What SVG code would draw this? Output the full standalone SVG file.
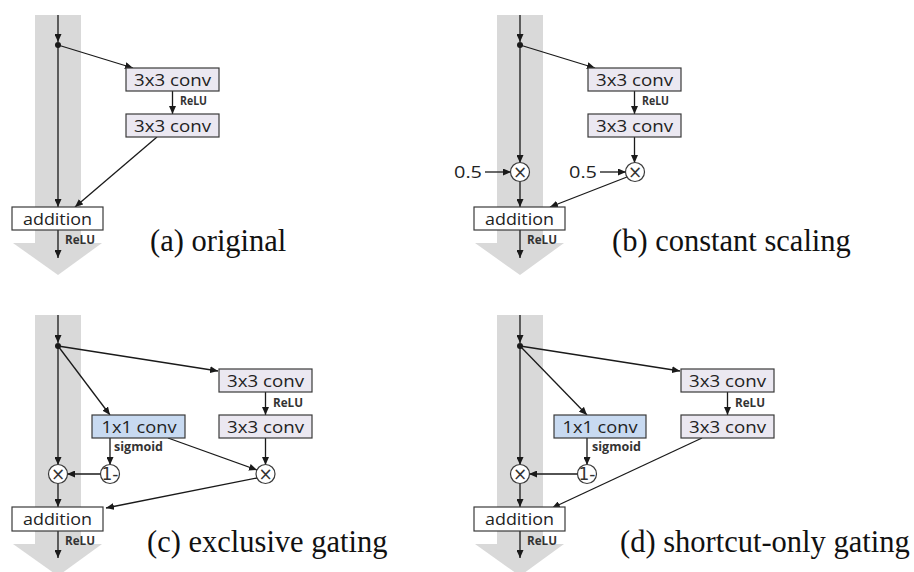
<svg xmlns="http://www.w3.org/2000/svg" width="914" height="572" viewBox="0 0 914 572">
<defs>
<marker id="ah" markerUnits="userSpaceOnUse" markerWidth="8" markerHeight="7" refX="8" refY="3.5" orient="auto">
<path d="M0,0 L8,3.5 L0,7 z" fill="#1a1a1a"/>
</marker>
<style>
.band{fill:#d9d9d9}
.ar{stroke:#1a1a1a;stroke-width:1.3;fill:none;marker-end:url(#ah)}
.box{fill:#ebe8f1;stroke:#3a3a3a;stroke-width:1.2}
.add{fill:#ffffff;stroke:#3a3a3a;stroke-width:1.2}
.blue{fill:#c8daf1;stroke:#3a3a3a;stroke-width:1.2}
.circ{fill:#ffffff;stroke:#3a3a3a;stroke-width:1.2}
.dot{fill:#1a1a1a}
.t{font-family:"Open Sans","DejaVu Sans",sans-serif;font-size:16.5px;fill:#222;text-anchor:middle}
.s{font-family:"Open Sans","Liberation Sans",sans-serif;font-size:12px;font-weight:bold;fill:#333}
.op{font-family:"DejaVu Sans","Open Sans",sans-serif;font-size:17px;fill:#333;text-anchor:middle}
.num{font-family:"Open Sans","DejaVu Sans",sans-serif;font-size:17px;fill:#222}
.cap{font-family:"Liberation Serif","Times New Roman",serif;font-size:30.5px;fill:#111}
</style>
</defs>

<!-- bands -->
<g id="bands">
<rect class="band" x="35" y="15" width="46" height="228"/>
<polygon class="band" points="13,243 102,243 58,275"/>
<rect class="band" x="497" y="15" width="46" height="228"/>
<polygon class="band" points="475,243 564,243 520,275"/>
<rect class="band" x="35" y="315" width="46" height="229"/>
<polygon class="band" points="13,544 102,544 58,576"/>
<rect class="band" x="497" y="315" width="46" height="229"/>
<polygon class="band" points="475,544 564,544 520,576"/>
</g>

<!-- connectors -->
<g id="connectors">
<!-- (a) -->
<line class="ar" x1="58" y1="15" x2="58" y2="42"/>
<line class="ar" x1="58" y1="45" x2="58" y2="207"/>
<line class="ar" x1="58" y1="45" x2="133" y2="68"/>
<line class="ar" x1="172.5" y1="91" x2="172.5" y2="114"/>
<line class="ar" x1="157" y1="137" x2="75" y2="207"/>
<line class="ar" x1="58" y1="230" x2="58" y2="258"/>
<!-- (b) -->
<line class="ar" x1="520" y1="15" x2="520" y2="42"/>
<line class="ar" x1="520" y1="45" x2="520" y2="163"/>
<line class="ar" x1="520" y1="45" x2="595" y2="68"/>
<line class="ar" x1="634.5" y1="91" x2="634.5" y2="114"/>
<line class="ar" x1="634.5" y1="137" x2="634.5" y2="163"/>
<line class="ar" x1="485" y1="172" x2="511" y2="172"/>
<line class="ar" x1="600" y1="172" x2="626" y2="172"/>
<line class="ar" x1="520" y1="181" x2="520" y2="207"/>
<line class="ar" x1="627" y1="177" x2="550" y2="207"/>
<line class="ar" x1="520" y1="230" x2="520" y2="258"/>
<!-- (c) -->
<line class="ar" x1="58" y1="315" x2="58" y2="343"/>
<line class="ar" x1="58" y1="346" x2="58" y2="465"/>
<line class="ar" x1="58" y1="346" x2="218" y2="371"/>
<line class="ar" x1="58" y1="346" x2="110" y2="415"/>
<line class="ar" x1="265.5" y1="392" x2="265.5" y2="415"/>
<line class="ar" x1="110" y1="438" x2="110" y2="465"/>
<line class="ar" x1="265.5" y1="438" x2="265.5" y2="465"/>
<line class="ar" x1="168" y1="438" x2="257" y2="470"/>
<line class="ar" x1="101" y1="474" x2="67" y2="474"/>
<line class="ar" x1="58" y1="483" x2="58" y2="507"/>
<line class="ar" x1="257" y1="478" x2="106" y2="508"/>
<line class="ar" x1="58" y1="531" x2="58" y2="558"/>
<!-- (d) -->
<line class="ar" x1="520" y1="315" x2="520" y2="343"/>
<line class="ar" x1="520" y1="346" x2="520" y2="465"/>
<line class="ar" x1="520" y1="346" x2="680" y2="371"/>
<line class="ar" x1="520" y1="346" x2="587" y2="415"/>
<line class="ar" x1="727.5" y1="392" x2="727.5" y2="415"/>
<line class="ar" x1="587" y1="438" x2="587" y2="465"/>
<line class="ar" x1="578" y1="474" x2="529" y2="474"/>
<line class="ar" x1="520" y1="483" x2="520" y2="507"/>
<line class="ar" x1="702" y1="438" x2="552" y2="508"/>
<line class="ar" x1="520" y1="531" x2="520" y2="558"/>
</g>

<!-- panel (a) -->
<g id="a-split"><circle class="dot" cx="58" cy="45" r="3"/></g>
<g id="a-conv1"><rect class="box" x="126" y="68" width="93" height="23"/><text class="t" x="172.5" y="85.5" textLength="77" lengthAdjust="spacingAndGlyphs">3x3 conv</text></g>
<g id="a-relu1"><text class="s" x="180" y="105" textLength="27" lengthAdjust="spacingAndGlyphs">ReLU</text></g>
<g id="a-conv2"><rect class="box" x="126" y="114" width="93" height="23"/><text class="t" x="172.5" y="131.5" textLength="77" lengthAdjust="spacingAndGlyphs">3x3 conv</text></g>
<g id="a-add"><rect class="add" x="12" y="207" width="91" height="23"/><text class="t" x="57.5" y="224.5" textLength="69" lengthAdjust="spacingAndGlyphs">addition</text></g>
<g id="a-relu2"><text class="s" x="65" y="244" textLength="30" lengthAdjust="spacingAndGlyphs">ReLU</text></g>
<g id="a-caption"><text class="cap" x="150" y="251">(a) original</text></g>

<!-- panel (b) -->
<g id="b-split"><circle class="dot" cx="520" cy="45" r="3"/></g>
<g id="b-conv1"><rect class="box" x="588" y="68" width="93" height="23"/><text class="t" x="634.5" y="85.5" textLength="77" lengthAdjust="spacingAndGlyphs">3x3 conv</text></g>
<g id="b-relu1"><text class="s" x="642" y="105" textLength="27" lengthAdjust="spacingAndGlyphs">ReLU</text></g>
<g id="b-conv2"><rect class="box" x="588" y="114" width="93" height="23"/><text class="t" x="634.5" y="131.5" textLength="77" lengthAdjust="spacingAndGlyphs">3x3 conv</text></g>
<g id="b-k1"><text class="num" x="454" y="178" textLength="28" lengthAdjust="spacingAndGlyphs">0.5</text></g>
<g id="b-k2"><text class="num" x="569" y="178" textLength="28" lengthAdjust="spacingAndGlyphs">0.5</text></g>
<g id="b-mul1"><circle class="circ" cx="520" cy="172" r="9.5"/><text class="op" x="520" y="178">×</text></g>
<g id="b-mul2"><circle class="circ" cx="635" cy="172" r="9.5"/><text class="op" x="635" y="178">×</text></g>
<g id="b-add"><rect class="add" x="474" y="207" width="91" height="23"/><text class="t" x="519.5" y="224.5" textLength="69" lengthAdjust="spacingAndGlyphs">addition</text></g>
<g id="b-relu2"><text class="s" x="527" y="244" textLength="30" lengthAdjust="spacingAndGlyphs">ReLU</text></g>
<g id="b-caption"><text class="cap" x="612" y="251">(b) constant scaling</text></g>

<!-- panel (c) -->
<g id="c-split"><circle class="dot" cx="58" cy="346" r="3"/></g>
<g id="c-conv1"><rect class="box" x="219" y="369" width="93" height="23"/><text class="t" x="265.5" y="386.5" textLength="77" lengthAdjust="spacingAndGlyphs">3x3 conv</text></g>
<g id="c-relu1"><text class="s" x="273" y="407" textLength="30" lengthAdjust="spacingAndGlyphs">ReLU</text></g>
<g id="c-conv2"><rect class="box" x="219" y="415" width="93" height="23"/><text class="t" x="265.5" y="432.5" textLength="77" lengthAdjust="spacingAndGlyphs">3x3 conv</text></g>
<g id="c-gate"><rect class="blue" x="92" y="415" width="93" height="23"/><text class="t" x="139" y="432.5" textLength="75" lengthAdjust="spacingAndGlyphs">1x1 conv</text></g>
<g id="c-sigmoid"><text class="s" x="114" y="451" textLength="49" lengthAdjust="spacingAndGlyphs">sigmoid</text></g>
<g id="c-one-minus"><circle class="circ" cx="110" cy="474" r="9.5"/><text class="op" x="110" y="479.5" font-size="14">1-</text></g>
<g id="c-mul1"><circle class="circ" cx="58" cy="474" r="9.5"/><text class="op" x="58" y="480">×</text></g>
<g id="c-mul2"><circle class="circ" cx="265.5" cy="474" r="9.5"/><text class="op" x="265.5" y="480">×</text></g>
<g id="c-add"><rect class="add" x="12" y="507" width="91" height="24"/><text class="t" x="57.5" y="524.5" textLength="69" lengthAdjust="spacingAndGlyphs">addition</text></g>
<g id="c-relu2"><text class="s" x="65" y="545" textLength="30" lengthAdjust="spacingAndGlyphs">ReLU</text></g>
<g id="c-caption"><text class="cap" x="147" y="552">(c) exclusive gating</text></g>

<!-- panel (d) -->
<g id="d-split"><circle class="dot" cx="520" cy="346" r="3"/></g>
<g id="d-conv1"><rect class="box" x="681" y="369" width="93" height="23"/><text class="t" x="727.5" y="386.5" textLength="77" lengthAdjust="spacingAndGlyphs">3x3 conv</text></g>
<g id="d-relu1"><text class="s" x="735" y="407" textLength="30" lengthAdjust="spacingAndGlyphs">ReLU</text></g>
<g id="d-conv2"><rect class="box" x="681" y="415" width="93" height="23"/><text class="t" x="727.5" y="432.5" textLength="77" lengthAdjust="spacingAndGlyphs">3x3 conv</text></g>
<g id="d-gate"><rect class="blue" x="554" y="415" width="92" height="23"/><text class="t" x="600" y="432.5" textLength="75" lengthAdjust="spacingAndGlyphs">1x1 conv</text></g>
<g id="d-sigmoid"><text class="s" x="592" y="451" textLength="49" lengthAdjust="spacingAndGlyphs">sigmoid</text></g>
<g id="d-one-minus"><circle class="circ" cx="587" cy="474" r="9.5"/><text class="op" x="587" y="479.5" font-size="14">1-</text></g>
<g id="d-mul1"><circle class="circ" cx="520" cy="474" r="9.5"/><text class="op" x="520" y="480">×</text></g>
<g id="d-add"><rect class="add" x="474" y="507" width="91" height="24"/><text class="t" x="519.5" y="524.5" textLength="69" lengthAdjust="spacingAndGlyphs">addition</text></g>
<g id="d-relu2"><text class="s" x="527" y="545" textLength="30" lengthAdjust="spacingAndGlyphs">ReLU</text></g>
<g id="d-caption"><text class="cap" x="620" y="552">(d) shortcut-only gating</text></g>
</svg>
